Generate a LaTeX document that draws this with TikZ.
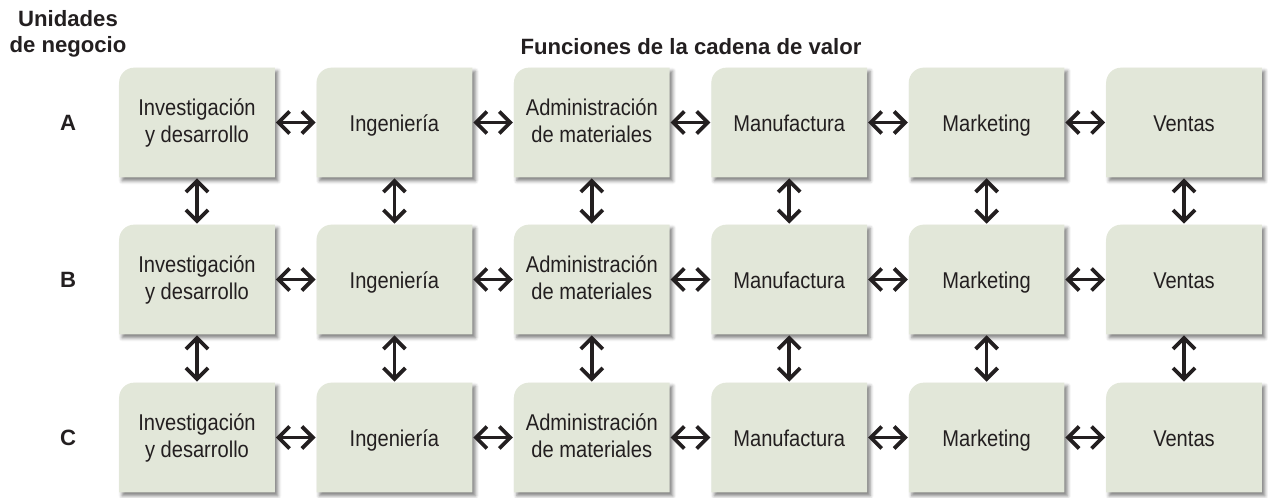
\documentclass[tikz,border=0pt]{standalone}
\usepackage{fontspec}
\setmainfont{Liberation Sans}
\newfontfamily\boxfont[FakeStretch=0.88]{Liberation Sans}
\usetikzlibrary{arrows.meta,shadows.blur,backgrounds}
\definecolor{boxgreen}{HTML}{E2E7D9}
\definecolor{inkgray}{HTML}{231F20}

\tikzset{
  cell/.style={minimum width=3.1cm, minimum height=2.18cm, inner sep=0pt,
    align=center, text=inkgray, font=\boxfont\fontsize{13}{15.4}\selectfont,
    execute at begin node=\rule{0pt}{13pt}, execute at end node=\rule[-2.5pt]{0pt}{2.5pt}},
  head/.style={font=\bfseries\fontsize{12.6}{14.6}\selectfont, text=inkgray, align=center},
  link/.style={{Straight Barb[length=2.2mm,width=4.4mm]}-{Straight Barb[length=2.2mm,width=4.4mm]},
    line width=0.075cm, draw=inkgray, shorten <=0.02cm, shorten >=0.02cm},
}

\begin{document}
\begin{tikzpicture}
  \useasboundingbox (0,0) rectangle (25.36,-9.96);

  % titles
  \node[head] (units) at (1.36,-0.68) {Unidades\\de negocio};
  \node[head] (chain) at (13.82,-0.93) {Funciones de la cadena de valor};

  % business units and value chain functions
  \foreach \r/\y in {A/-2.45, B/-5.59, C/-8.75} {
    \node[head] (lbl\r) at (1.36,\y) {\r};
    \foreach \f [count=\i] in {Investigación\\y desarrollo, Ingeniería,
        Administración\\de materiales, Manufactura, Marketing, Ventas}
      \node[cell] (\r\i) at ({3.94+3.948*(\i-1)},\y) {\f};
  }

  % boxes behind the texts
  \begin{scope}[on background layer]
    \foreach \r in {A,B,C}
      \foreach \i in {1,...,6}
        \fill[boxgreen, blur shadow={shadow xshift=0.06cm, shadow yshift=-0.07cm,
            shadow blur radius=0.07cm, shadow opacity=50}]
          (\r\i.south west) -- ([yshift=-0.3cm]\r\i.north west)
          arc[start angle=180, end angle=90, radius=0.3cm]
          -- (\r\i.north east) -- (\r\i.south east) -- cycle;
  \end{scope}

  % horizontal links
  \foreach \r in {A,B,C}
    \foreach \nx [remember=\nx as \pv (initially 1)] in {2,...,6}
      \draw[link] (\r\pv.east) -- (\r\nx.west);

  % vertical links
  \foreach \i in {1,...,6} {
    \draw[link] (A\i.south) -- (B\i.north);
    \draw[link] (B\i.south) -- (C\i.north);
  }
\end{tikzpicture}
\end{document}
